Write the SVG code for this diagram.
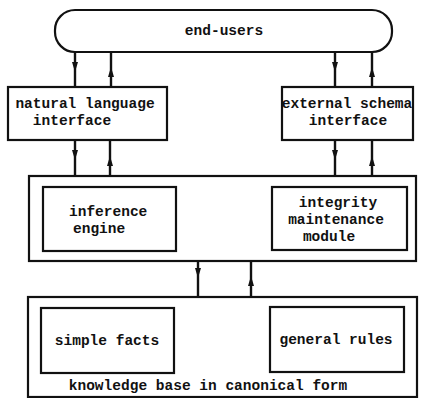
<svg xmlns="http://www.w3.org/2000/svg" width="441" height="398" viewBox="0 0 441 398">
<style>
.box{fill:none;stroke:#111;stroke-width:2.2}
.ln{stroke:#111;stroke-width:2.4;fill:none}
.hd{fill:#111}
text{font-family:"Liberation Mono","DejaVu Sans Mono",monospace;font-weight:bold;font-size:14.5px;fill:#111}
.c{text-anchor:middle}
</style>
<defs>
<path id="dn" class="hd" d="M-3,-6 L3,-6 L0,4 Z"/>
<path id="up" class="hd" d="M-3,6 L3,6 L0,-4 Z"/>
</defs>
<rect width="441" height="398" fill="#fff"/>
<g id="connectors">
<line class="ln" x1="75" y1="52" x2="75" y2="87"/>
<line class="ln" x1="111" y1="52" x2="111" y2="87"/>
<line class="ln" x1="335" y1="52" x2="335" y2="87"/>
<line class="ln" x1="372" y1="52" x2="372" y2="87"/>
<use href="#dn" x="75" y="68"/>
<use href="#up" x="111" y="71"/>
<use href="#dn" x="335" y="68"/>
<use href="#up" x="372" y="71"/>
<line class="ln" x1="75" y1="140" x2="75" y2="176"/>
<line class="ln" x1="110" y1="140" x2="110" y2="176"/>
<line class="ln" x1="335" y1="140" x2="335" y2="176"/>
<line class="ln" x1="372" y1="140" x2="372" y2="176"/>
<use href="#dn" x="75" y="156"/>
<use href="#up" x="110" y="160"/>
<use href="#dn" x="335" y="156"/>
<use href="#up" x="372" y="160"/>
<line class="ln" x1="198" y1="261" x2="198" y2="297"/>
<line class="ln" x1="251" y1="261" x2="251" y2="297"/>
<use href="#dn" x="198" y="274"/>
<use href="#up" x="251" y="280"/>
</g>
<g id="end-users">
<rect class="box" x="55" y="10" width="337" height="42" rx="20"/>
<text class="c" x="224" y="35">end-users</text>
</g>
<g id="nl-interface">
<rect class="box" x="8" y="87" width="159" height="53"/>
<text class="c" x="85" y="108">natural language</text>
<text class="c" x="72" y="125">interface</text>
</g>
<g id="es-interface">
<rect class="box" x="282" y="87" width="131" height="53"/>
<text class="c" x="347" y="108">external schema</text>
<text class="c" x="348" y="125">interface</text>
</g>
<g id="processing">
<rect class="box" x="29" y="176" width="387" height="85"/>
</g>
<g id="inference-engine">
<rect class="box" x="43" y="187" width="133" height="64"/>
<text x="69" y="216">inference</text>
<text x="73" y="233">engine</text>
</g>
<g id="integrity-module">
<rect class="box" x="272" y="187" width="135" height="63"/>
<text class="c" x="338" y="207">integrity</text>
<text class="c" x="336" y="224">maintenance</text>
<text class="c" x="329" y="241">module</text>
</g>
<g id="knowledge-base">
<rect class="box" x="28" y="297" width="389" height="100"/>
<text class="c" x="208" y="390">knowledge base in canonical form</text>
</g>
<g id="simple-facts">
<rect class="box" x="41" y="308" width="133" height="65"/>
<text class="c" x="107" y="345">simple facts</text>
</g>
<g id="general-rules">
<rect class="box" x="270" y="307" width="134" height="65"/>
<text class="c" x="336" y="344">general rules</text>
</g>
</svg>
